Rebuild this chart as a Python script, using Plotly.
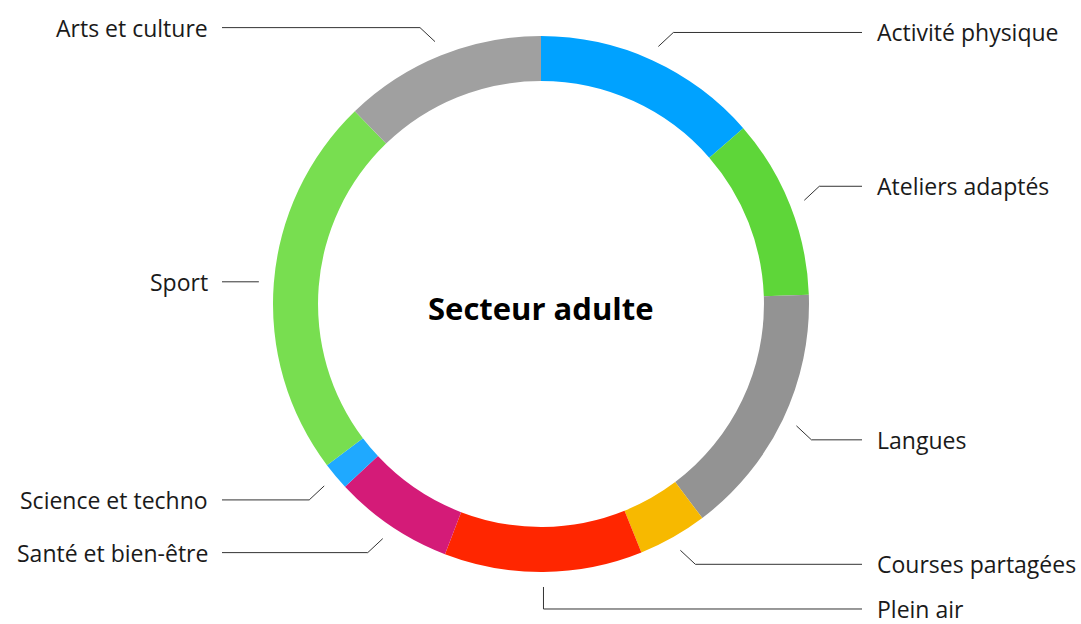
import math
import plotly.graph_objects as go

# ---- data ----
categories = ["Activité physique", "Ateliers adaptés", "Langues", "Courses partagées",
              "Plein air", "Santé et bien-être", "Science et techno", "Sport", "Arts et culture"]
values = [49, 39, 55, 15, 43, 26, 6, 83, 44]
colors = ["#00A2FF", "#5ED639", "#939393", "#F7B900", "#FF2600",
          "#D41B78", "#1FA9FF", "#78DE50", "#A0A0A0"]
center_title = "Secteur adulte"

# ---- layout constants (pixels) ----
W, H = 1081, 624
CX, CY, R = 541, 304, 268
HOLE = 0.832
R_LEAD = 283
RIGHT_END, RIGHT_TEXT = 862, 875
LEFT_END, LEFT_TEXT = 222, 210
FONT = "Open Sans"
LINE_COLOR = "#333333"
TEXT_COLOR = "#1a1a1a"

fig = go.Figure()

fig.add_trace(go.Pie(
    labels=categories, values=values, sort=False, direction="clockwise", rotation=0,
    hole=HOLE, marker=dict(colors=colors, line=dict(width=0)),
    textinfo="none", hoverinfo="label+value", showlegend=False,
    domain=dict(x=[(CX - R) / W, (CX + R) / W], y=[(H - CY - R) / H, (H - CY + R) / H]),
))

total = sum(values)
cum = 0
for cat, v in zip(categories, values):
    mid = (cum + v / 2) / total * 2 * math.pi
    cum += v
    s, c = math.sin(mid), math.cos(mid)
    x0, y0 = CX + R_LEAD * s, CY - R_LEAD * c
    right = s >= 0
    end_x = RIGHT_END if right else LEFT_END
    if abs(c) > 0.97:
        ey = y0 + (22 if c < 0 else -22)
        xs, ys = [x0, x0, end_x], [y0, ey, ey]
    elif abs(c) < 0.1:
        ey = y0
        xs, ys = [x0, end_x], [y0, ey]
    else:
        ex = x0 + (15 if right else -15)
        ey = y0 + (14 if c < 0 else -14)
        xs, ys = [x0, ex, end_x], [y0, ey, ey]
    fig.add_trace(go.Scatter(x=xs, y=ys, mode="lines", line=dict(color=LINE_COLOR, width=1),
                             hoverinfo="skip", showlegend=False))
    fig.add_annotation(x=RIGHT_TEXT if right else LEFT_TEXT, y=ey, text=cat, showarrow=False,
                       xanchor="left" if right else "right", yanchor="middle",
                       font=dict(family=FONT, size=23, color=TEXT_COLOR))

fig.add_annotation(x=CX, y=CY + 4, text="<b>" + center_title + "</b>", showarrow=False,
                   xanchor="center", yanchor="middle",
                   font=dict(family=FONT, size=31, color="#000000"))

fig.update_layout(
    width=W, height=H, margin=dict(l=0, r=0, t=0, b=0),
    paper_bgcolor="white", plot_bgcolor="white",
    xaxis=dict(range=[0, W], visible=False, fixedrange=True, domain=[0, 1]),
    yaxis=dict(range=[H, 0], visible=False, fixedrange=True, domain=[0, 1]),
)

fig.write_html(
    "out.html",
    config={"displayModeBar": False},
    post_script="document.body.style.margin='0';document.body.style.overflow='hidden';",
)
